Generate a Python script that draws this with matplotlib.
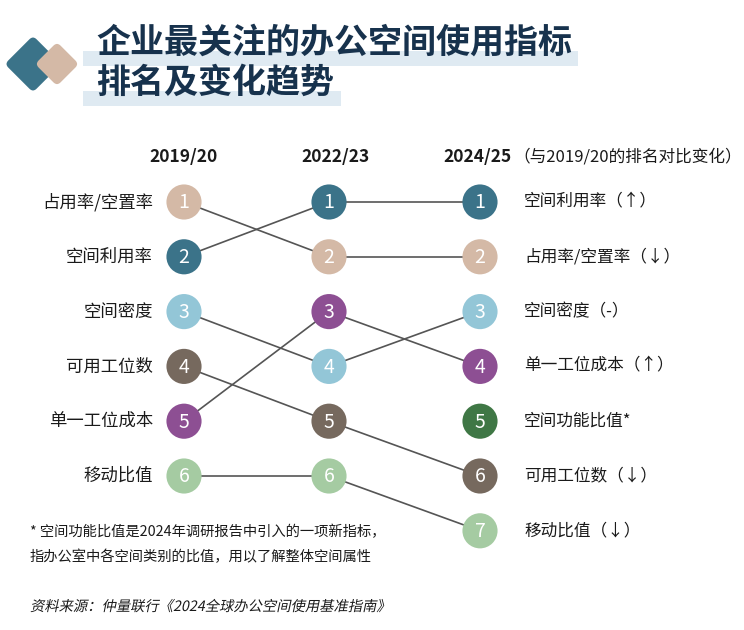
import matplotlib
matplotlib.use('Agg')
from matplotlib import pyplot as plt
from matplotlib.patches import FancyBboxPatch, Rectangle, PathPatch
from matplotlib.transforms import Affine2D
from matplotlib.textpath import TextPath
from matplotlib.font_manager import FontProperties

plt.rcParams['font.family'] = ['Noto Sans CJK SC', 'DejaVu Sans']

# data
periods = ['2019/20', '2022/23', '2024/25']
metrics = ['占用率/空置率', '空间利用率', '空间密度', '可用工位数',
           '单一工位成本', '移动比值', '空间功能比值']
rank_2019 = [1, 2, 3, 4, 5, 6, None]
rank_2022 = [2, 1, 4, 5, 3, 6, None]
rank_2024 = [2, 1, 3, 6, 4, 7, 5]
change = ['↓', '↑', '-', '↓', '↑', '↓', None]
colors = ['#d4b9a6', '#3b7389', '#93c6d7', '#76695e',
          '#8d4f93', '#a5cba2', '#3f7745']

title_lines = ['企业最关注的办公空间使用指标', '排名及变化趋势']
note_lines = ['* 空间功能比值是2024年调研报告中引入的一项新指标，',
              '指办公室中各空间类别的比值，用以了解整体空间属性']
source = '资料来源：仲量联行《2024全球办公空间使用基准指南》'

fig = plt.figure(figsize=(7.44, 6.3), dpi=100)
ax = fig.add_axes([0, 0, 1, 1])
ax.set_xlim(0, 744)
ax.set_ylim(630, 0)
ax.axis('off')

col_x = [184, 329, 480]
row_y0, row_dy = 202, 54.8


def ry(r):
    return row_y0 + (r - 1) * row_dy


# logo
for (cx, cy, side, col) in [(33, 64, 40, '#3b7389'), (57, 64, 31, '#d4b9a6')]:
    p = FancyBboxPatch((cx - side / 2, cy - side / 2), side, side,
                       boxstyle='round,pad=0,rounding_size=5',
                       fc=col, ec='none', zorder=3)
    p.set_transform(Affine2D().rotate_deg_around(cx, cy, 45) + ax.transData)
    ax.add_patch(p)

# title with highlight stripes
for (ty, w), line in zip([(42, 495), (82, 258)], title_lines):
    ax.add_patch(Rectangle((83, ty + 9), w, 15, fc='#dfeaf2', ec='none', zorder=1))
    ax.text(96, ty, line, fontsize=24.5, fontweight='bold', color='#17324d',
            va='center', ha='left', zorder=2)

# headers
ax.text(col_x[0], 157, periods[0], fontsize=12.5, fontweight='bold',
        ha='center', va='center', color='#1a1a1a')
ax.text(336, 157, periods[1], fontsize=12.5, fontweight='bold',
        ha='center', va='center', color='#1a1a1a')
ax.text(478, 157, periods[2], fontsize=12.5, fontweight='bold',
        ha='center', va='center', color='#1a1a1a')
ax.text(513, 157, '（与2019/20的排名对比变化）', fontsize=12,
        ha='left', va='center', color='#1a1a1a')

# connecting lines
for i in range(len(metrics)):
    ranks = [rank_2019[i], rank_2022[i], rank_2024[i]]
    for k in range(2):
        if ranks[k] is None or ranks[k + 1] is None:
            continue
        ax.plot([col_x[k], col_x[k + 1]], [ry(ranks[k]), ry(ranks[k + 1])],
                color='#555555', lw=1.2, zorder=2, solid_capstyle='butt')

# circles
for k, ranks in enumerate([rank_2019, rank_2022, rank_2024]):
    for i, r in enumerate(ranks):
        if r is None:
            continue
        ax.scatter(col_x[k], ry(r), s=640, color=colors[i], edgecolors='none',
                   zorder=4)
        ax.text(col_x[k], ry(r) + 1, str(r), fontsize=14, color='white',
                ha='center', va='center', zorder=5)

# left labels
for i, r in enumerate(rank_2019):
    if r is None:
        continue
    ax.text(153, ry(r), metrics[i], fontsize=12.5, ha='right', va='center',
            color='#1a1a1a')

# right labels
for i, r in enumerate(rank_2024):
    lab = metrics[i] + ('*' if change[i] is None else '（' + change[i] + '）')
    ax.text(524, ry(r), lab, fontsize=12, ha='left', va='center',
            color='#1a1a1a', family=['Noto Sans CJK SC', 'DejaVu Sans'])

# notes
ax.text(30, 532, note_lines[0], fontsize=10.3, ha='left', va='center', color='#1a1a1a')
ax.text(30, 557, note_lines[1], fontsize=10.3, ha='left', va='center', color='#1a1a1a')

# source line, slanted (the CJK font has no italic face)
tp = TextPath((0, 0), source, size=14.3, prop=FontProperties(family='Noto Sans CJK SC'))
tr = Affine2D().skew_deg(12, 0).scale(1, -1).translate(30, 611) + ax.transData
ax.add_patch(PathPatch(tp, fc='#1a1a1a', ec='none', transform=tr))

fig.savefig('out.png', dpi=100)
